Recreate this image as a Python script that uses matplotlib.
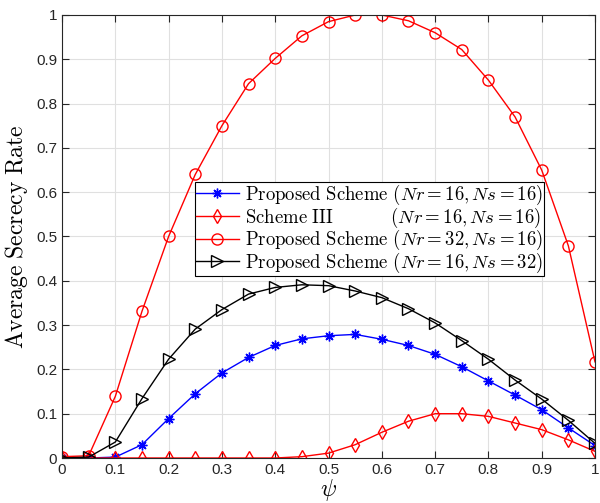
import matplotlib
matplotlib.use("Agg")
import matplotlib.pyplot as plt
import numpy as np

plt.rcParams['mathtext.fontset'] = 'cm'
plt.rcParams['font.family'] = ['Liberation Sans', 'DejaVu Sans']

# psi axis
psi = np.round(np.arange(0, 1.0001, 0.05), 2)

# average secrecy rate
prop_16_16 = [0.0, 0.0, 0.002, 0.03, 0.089, 0.145, 0.192, 0.227, 0.254, 0.269, 0.276,
              0.279, 0.268, 0.254, 0.234, 0.206, 0.174, 0.142, 0.109, 0.068, 0.028]
scheme3_16_16 = [0.0, 0.0, 0.0, 0.0, 0.0, 0.0, 0.0, 0.0, 0.0, 0.003, 0.011,
                 0.03, 0.058, 0.083, 0.1, 0.1, 0.094, 0.079, 0.064, 0.041, 0.015]
prop_32_16 = [0.003, 0.005, 0.139, 0.331, 0.5, 0.64, 0.75, 0.845, 0.902, 0.953, 0.985,
              1.0, 1.0, 0.987, 0.96, 0.922, 0.853, 0.77, 0.65, 0.479, 0.217]
prop_16_32 = [0.0, 0.002, 0.036, 0.134, 0.223, 0.291, 0.335, 0.37, 0.385, 0.391, 0.389,
              0.377, 0.362, 0.337, 0.305, 0.265, 0.223, 0.176, 0.133, 0.085, 0.033]

labels = [r'$\mathrm{Proposed\ Scheme}\ (Nr=16,Ns=16)$',
          r'$\mathrm{Scheme\ III}\qquad\quad\;\; (Nr=16,Ns=16)$',
          r'$\mathrm{Proposed\ Scheme}\ (Nr=32,Ns=16)$',
          r'$\mathrm{Proposed\ Scheme}\ (Nr=16,Ns=32)$']

fig = plt.figure(figsize=(6.0, 5.03), dpi=100)
ax = fig.add_axes([62/600, 1-458/503, 533/600, 443/503])

ax.plot(psi, prop_16_16, color='b', marker=(8, 2, 0), ms=7, mew=1, lw=1, label=labels[0])
ax.plot(psi, scheme3_16_16, color='r', marker='d', ms=7, mfc='none', lw=1, label=labels[1])
ax.plot(psi, prop_32_16, color='r', marker='o', ms=8, mfc='none', lw=1, label=labels[2])
ax.plot(psi, prop_16_32, color='k', marker='>', ms=8, mfc='none', lw=1, label=labels[3])

ax.set_xlim(0, 1)
ax.set_ylim(0, 1)
ax.set_xticks(np.arange(0, 1.01, 0.1))
ax.set_yticks(np.arange(0, 1.01, 0.1))
ax.set_xticklabels(['0', '0.1', '0.2', '0.3', '0.4', '0.5', '0.6', '0.7', '0.8', '0.9', '1'])
ax.set_yticklabels(['0', '0.1', '0.2', '0.3', '0.4', '0.5', '0.6', '0.7', '0.8', '0.9', '1'])
ax.tick_params(direction='in', top=True, right=True, labelsize=11, colors='#262626', length=5)
ax.grid(True, color='#e0e0e0', lw=0.8)
ax.set_axisbelow(True)
for s in ax.spines.values():
    s.set_color('#262626')
    s.set_linewidth(0.8)

ax.set_ylabel(r'$\mathrm{Average\ Secrecy\ Rate}$', fontsize=17)
ax.set_xlabel(r'$\psi$', fontsize=17, labelpad=0)

leg = ax.legend(loc='upper left', bbox_to_anchor=(0.2495, 0.623), fontsize=13.5,
                fancybox=False, edgecolor='k', framealpha=1, borderpad=0.05,
                labelspacing=-0.08, handlelength=2.3, handletextpad=0.3, borderaxespad=0)
leg.get_frame().set_linewidth(0.8)

fig.savefig('out.png', dpi=100)
